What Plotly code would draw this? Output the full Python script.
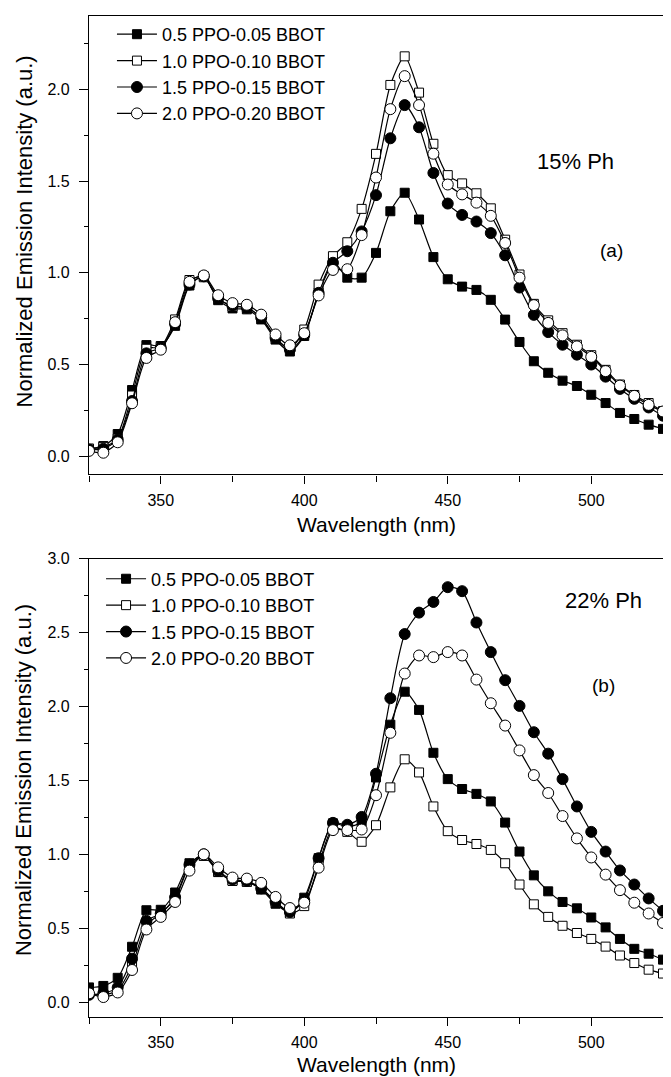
import plotly.graph_objects as go

# longitudes de onda (nm), un punto cada 5 nm
longitudes = list(range(325, 530, 5))

etiquetas = ["0.5 PPO-0.05 BBOT", "1.0 PPO-0.10 BBOT",
             "1.5 PPO-0.15 BBOT", "2.0 PPO-0.20 BBOT"]

# panel (a): 15% Ph
a_05 = [0.04, 0.054, 0.12, 0.36, 0.605, 0.60, 0.71, 0.93, 0.98, 0.85, 0.805, 0.80, 0.745, 0.635,
        0.57, 0.655, 0.89, 1.06, 0.973, 0.973, 1.108, 1.335, 1.436, 1.29, 1.085, 0.964, 0.924,
        0.906, 0.852, 0.744, 0.622, 0.517, 0.454, 0.411, 0.382, 0.334, 0.289, 0.235, 0.202,
        0.171, 0.148]
a_10 = [0.04, 0.05, 0.095, 0.33, 0.585, 0.595, 0.745, 0.96, 0.975, 0.86, 0.815, 0.81, 0.755, 0.645,
        0.585, 0.69, 0.935, 1.09, 1.166, 1.348, 1.648, 2.024, 2.18, 1.982, 1.703, 1.532, 1.487,
        1.433, 1.351, 1.18, 0.99, 0.83, 0.74, 0.67, 0.607, 0.55, 0.47, 0.39, 0.333, 0.289, 0.245]
a_15 = [0.035, 0.04, 0.09, 0.30, 0.56, 0.59, 0.72, 0.935, 0.98, 0.86, 0.82, 0.81, 0.755, 0.645,
        0.58, 0.66, 0.89, 1.054, 1.117, 1.225, 1.423, 1.733, 1.914, 1.793, 1.544, 1.377, 1.315,
        1.279, 1.216, 1.095, 0.919, 0.77, 0.676, 0.607, 0.553, 0.499, 0.433, 0.366, 0.312,
        0.265, 0.22]
a_20 = [0.028, 0.018, 0.075, 0.288, 0.535, 0.58, 0.73, 0.95, 0.985, 0.877, 0.834, 0.825, 0.771,
        0.663, 0.604, 0.67, 0.876, 1.015, 1.019, 1.205, 1.519, 1.892, 2.072, 1.914, 1.649, 1.481,
        1.427, 1.382, 1.31, 1.162, 0.973, 0.823, 0.726, 0.658, 0.598, 0.541, 0.463, 0.384,
        0.328, 0.279, 0.243]

# panel (b): 22% Ph
b_05 = [0.10, 0.11, 0.165, 0.375, 0.622, 0.625, 0.742, 0.94, 0.99, 0.88, 0.823, 0.814, 0.762,
        0.666, 0.606, 0.707, 0.974, 1.21, 1.186, 1.22, 1.52, 1.877, 2.10, 1.977, 1.687, 1.509,
        1.442, 1.409, 1.358, 1.215, 1.019, 0.858, 0.75, 0.678, 0.635, 0.573, 0.506, 0.428,
        0.361, 0.328, 0.288]
b_10 = [0.06, 0.05, 0.08, 0.25, 0.52, 0.60, 0.70, 0.92, 0.99, 0.885, 0.82, 0.815, 0.77, 0.68,
        0.60, 0.65, 0.93, 1.18, 1.152, 1.085, 1.197, 1.453, 1.643, 1.554, 1.324, 1.157, 1.097,
        1.07, 1.03, 0.94, 0.796, 0.662, 0.577, 0.517, 0.468, 0.428, 0.376, 0.316, 0.265, 0.22,
        0.194]
b_15 = [0.05, 0.06, 0.10, 0.294, 0.55, 0.60, 0.71, 0.93, 1.0, 0.89, 0.83, 0.82, 0.77, 0.68,
        0.61, 0.69, 0.974, 1.213, 1.20, 1.253, 1.545, 2.056, 2.49, 2.635, 2.707, 2.807, 2.78,
        2.568, 2.368, 2.178, 2.004, 1.826, 1.681, 1.509, 1.324, 1.152, 1.019, 0.891, 0.796,
        0.702, 0.618]
b_20 = [0.06, 0.035, 0.066, 0.218, 0.492, 0.577, 0.678, 0.89, 1.0, 0.912, 0.843, 0.836, 0.807,
        0.712, 0.637, 0.673, 0.91, 1.164, 1.164, 1.168, 1.40, 1.822, 2.223, 2.345, 2.334, 2.368,
        2.345, 2.182, 2.022, 1.871, 1.703, 1.536, 1.415, 1.259, 1.108, 0.979, 0.863, 0.758,
        0.673, 0.60, 0.536]

# simbolos: cuadrado lleno, cuadrado vacio, circulo lleno, circulo vacio
simbolos = [("square", "black", 9), ("square", "white", 9),
            ("circle", "black", 11), ("circle", "white", 11)]

fuente = "Arial, Liberation Sans, sans-serif"

figura = go.Figure()


def agregarSerie(valores, i, fila):
    simbolo, relleno, tam = simbolos[i]
    figura.add_trace(go.Scatter(
        x=longitudes, y=valores, name=etiquetas[i],
        mode="lines+markers",
        line=dict(color="black", width=1.2, shape="spline", smoothing=0.7),
        marker=dict(symbol=simbolo, color=relleno, size=tam,
                    line=dict(color="black", width=1)),
        xaxis="x" if fila == 1 else "x2",
        yaxis="y" if fila == 1 else "y2",
        legend="legend" if fila == 1 else "legend2",
    ))


for i, serie in enumerate([a_05, a_10, a_15, a_20]):
    agregarSerie(serie, i, 1)
for i, serie in enumerate([b_05, b_10, b_15, b_20]):
    agregarSerie(serie, i, 2)

ejeX = dict(range=[325, 525], tick0=350, dtick=50, ticks="outside", ticklen=8,
            tickwidth=1, tickcolor="black", showline=True, linecolor="black",
            linewidth=1.3, mirror=True, showgrid=False, zeroline=False,
            ticklabelstandoff=3,
            tickfont=dict(size=16, color="black", family=fuente),
            minor=dict(dtick=25, tick0=325, ticks="outside", ticklen=6,
                       tickcolor="black", showgrid=False))
ejeY = dict(dtick=0.5, tick0=0, ticks="outside", ticklen=9, tickwidth=1,
            tickcolor="black", showline=True, linecolor="black", linewidth=1.3,
            mirror=True, showgrid=False, zeroline=False, tickformat=".1f",
            ticklabelstandoff=6,
            tickfont=dict(size=16, color="black", family=fuente),
            minor=dict(dtick=0.25, tick0=0, ticks="outside", ticklen=4,
                       tickcolor="black", showgrid=False))

leyenda = dict(bgcolor="rgba(0,0,0,0)", font=dict(size=18, color="black", family=fuente),
               xanchor="left", yanchor="top", itemwidth=40, tracegroupgap=0)

# la pagina deja 8 px de margen, asi que la figura es 8 px menor
figura.update_layout(
    width=663, height=1069,
    margin=dict(l=81, r=8, t=0, b=60),
    paper_bgcolor="white", plot_bgcolor="white",
    font=dict(family=fuente, color="black"),
    xaxis=dict(ejeX, domain=[0, 1], anchor="y"),
    yaxis=dict(ejeY, domain=[0.5421, 1.0], range=[-0.1, 2.4], anchor="x"),
    xaxis2=dict(ejeX, domain=[0, 1], anchor="y2"),
    yaxis2=dict(ejeY, domain=[0, 0.4579], range=[-0.1, 3.0], anchor="x2"),
    legend=dict(leyenda, x=0.04, y=1.0),
    legend2=dict(leyenda, x=0.021, y=0.456),
)

# textos: titulos de ejes y rotulos de panel
textos = [
    ("Wavelength (nm)", 0.5, (1017 - 521) / 1009, 21, 0),
    ("Wavelength (nm)", 0.5, (1017 - 1065) / 1009, 21, 0),
    ("Normalized Emission Intensity (a.u.)", -0.113, (1017 - 225) / 1009, 22, -90),
    ("Normalized Emission Intensity (a.u.)", -0.113, (1017 - 778) / 1009, 22, -90),
    ("15% Ph", 0.8467, (1017 - 155) / 1009, 22, 0),
    ("(a)", 0.9105, (1017 - 244) / 1009, 19, 0),
    ("22% Ph", 0.8955, (1017 - 597) / 1009, 22, 0),
    ("(b)", 0.8955, (1017 - 683) / 1009, 19, 0),
]
for texto, px, py, tam, ang in textos:
    figura.add_annotation(text=texto, x=px, y=py, xref="paper", yref="paper",
                          showarrow=False, textangle=ang, xanchor="center",
                          yanchor="middle",
                          font=dict(size=tam, color="black", family=fuente))

figura.write_html("out.html")
